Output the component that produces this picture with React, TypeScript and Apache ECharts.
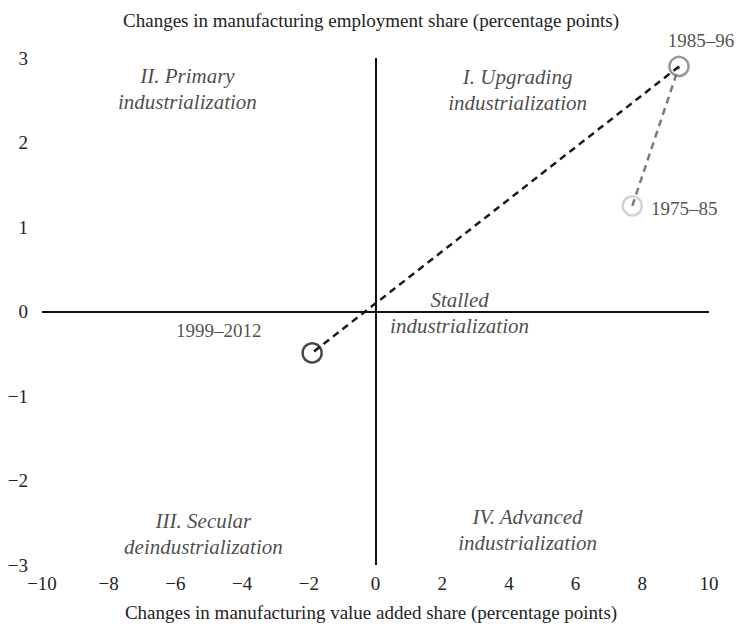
import React, { useEffect, useRef } from "react";
import * as echarts from "echarts";

const xTicks = [-10, -8, -6, -4, -2, 0, 2, 4, 6, 8, 10];
const yTicks = [-3, -2, -1, 0, 1, 2, 3];
const periods = ["1975–85", "1985–96", "1999–2012"];
const valueAddedChange = [7.7, 9.1, -1.9];
const employmentChange = [1.25, 2.9, -0.49];
const pointColors = ["#c6c6c6", "#7a7a7a", "#1a1a1a"];

const quadrantLabels = [
  "II. Primary\nindustrialization",
  "I. Upgrading\nindustrialization",
  "Stalled\nindustrialization",
  "III. Secular\ndeindustrialization",
  "IV. Advanced\nindustrialization",
];
const quadrantX = [-5.64, 4.26, 2.52, -5.16, 4.56];
const quadrantY = [2.63, 2.62, -0.02, -2.63, -2.58];

const FONT = "Liberation Serif";
const FS = 19;

export default function App() {
  const ref = useRef<HTMLDivElement>(null);
  useEffect(() => {
    if (!ref.current) return;
    const chart = echarts.init(ref.current, undefined, { renderer: "svg" });
    const labelOffsets: any = {
      "1975–85": { position: "right", distance: 8, offset: [0, 3] },
      "1985–96": { position: "top", distance: 4, offset: [22, -2] },
      "1999–2012": { position: "left", distance: 0, offset: [-40, -22] },
    };
    chart.setOption({
      animation: false,
      textStyle: { fontFamily: FONT },
      title: [
        {
          text: "Changes in manufacturing employment share (percentage points)",
          left: "center",
          top: 6,
          textStyle: { fontFamily: FONT, fontSize: FS, fontWeight: "normal", color: "#222" },
        },
        {
          text: "Changes in manufacturing value added share (percentage points)",
          left: "center",
          top: 598,
          textStyle: { fontFamily: FONT, fontSize: FS, fontWeight: "normal", color: "#222" },
        },
      ],
      grid: { left: 42, right: 33, top: 58, bottom: 65, containLabel: false },
      xAxis: {
        type: "value",
        min: xTicks[0],
        max: xTicks[xTicks.length - 1],
        interval: 2,
        axisLine: { show: false },
        axisTick: { show: false },
        splitLine: { show: false },
        axisLabel: {
          fontFamily: FONT,
          fontSize: FS,
          color: "#222",
          margin: 9,
          formatter: (v: number) => (v < 0 ? "−" + Math.abs(v) : String(v)),
        },
      },
      yAxis: {
        type: "value",
        min: yTicks[0],
        max: yTicks[yTicks.length - 1],
        interval: 1,
        axisLine: { show: false },
        axisTick: { show: false },
        splitLine: { show: false },
        axisLabel: {
          fontFamily: FONT,
          fontSize: FS,
          color: "#222",
          margin: 14,
          formatter: (v: number) => (v < 0 ? "−" + Math.abs(v) : String(v)),
        },
      },
      series: [
        {
          type: "line",
          data: [],
          silent: true,
          markLine: {
            symbol: "none",
            silent: true,
            label: { show: false },
            lineStyle: { color: "#111", width: 2, type: "solid" },
            data: [{ xAxis: 0 }, { yAxis: 0 }],
          },
        },
        {
          type: "line",
          data: [
            [valueAddedChange[0], employmentChange[0]],
            [valueAddedChange[1], employmentChange[1]],
          ],
          symbol: "none",
          lineStyle: { color: "#7a7a7a", width: 2.5, type: [7, 5] },
          z: 3,
        },
        {
          type: "line",
          data: [
            [valueAddedChange[1], employmentChange[1]],
            [valueAddedChange[2], employmentChange[2]],
          ],
          symbol: "none",
          lineStyle: { color: "#1a1a1a", width: 2.5, type: [7, 5] },
          z: 3,
        },
        {
          type: "scatter",
          symbol: "circle",
          symbolSize: 19,
          z: 4,
          data: periods.map((p, i) => ({
            name: p,
            value: [valueAddedChange[i], employmentChange[i]],
            itemStyle: { color: "rgba(255,255,255,0)", borderColor: pointColors[i], borderWidth: 2.5 },
            label: {
              show: true,
              formatter: p,
              fontFamily: FONT,
              fontSize: FS,
              color: "#222",
              ...labelOffsets[p],
            },
          })),
        },
        {
          type: "scatter",
          symbolSize: 0,
          silent: true,
          z: 5,
          data: quadrantLabels.map((t, i) => ({
            value: [quadrantX[i], quadrantY[i]],
            label: {
              show: true,
              position: "inside",
              formatter: t,
              fontFamily: FONT,
              fontStyle: "italic",
              fontSize: 21,
              lineHeight: 26,
              color: "#1a1a1a",
              align: "center",
            },
          })),
        },
      ],
    });
    return () => chart.dispose();
  }, []);
  return <div ref={ref} style={{ width: 742, height: 630, position: "absolute", left: 0, top: 0 }} />;
}
